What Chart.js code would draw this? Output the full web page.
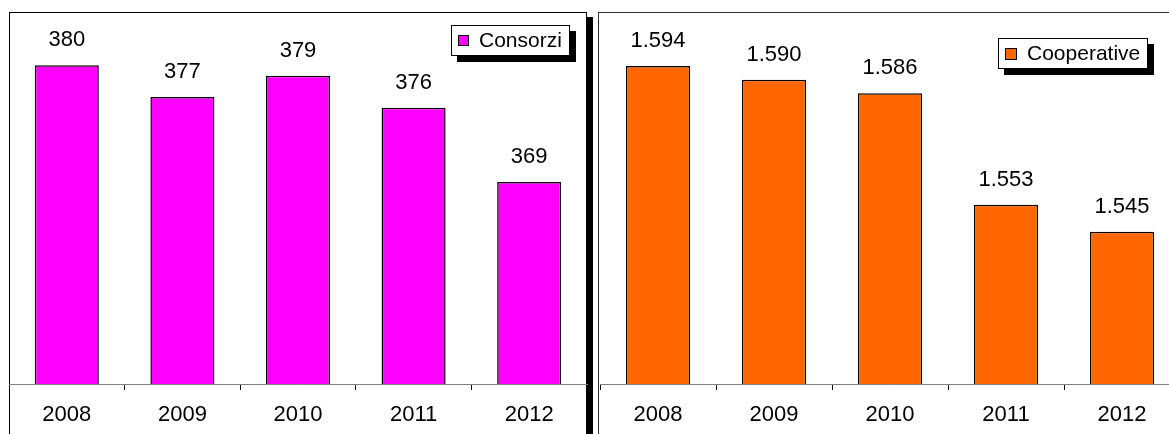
<!DOCTYPE html>
<html><head><meta charset="utf-8">
<script src="https://cdn.jsdelivr.net/npm/chart.js@4/dist/chart.umd.min.js"></script>
<style>
html,body{margin:0;padding:0;background:#fff;overflow:hidden;width:1169px;height:434px;}
.box{position:absolute;}
canvas{display:block;}
.frame{position:absolute;border:1px solid #000;border-bottom:none;box-sizing:border-box;}
.shadow{position:absolute;background:#000;}
</style></head><body>
<div class="frame" style="left:9px;top:12px;width:578px;height:422px"></div>
<div class="shadow" style="left:587px;top:17px;width:6px;height:417px"></div>
<div class="frame" style="left:598px;top:12px;width:620px;height:422px;border-color:#333"></div>
<div class="box" style="left:0;top:0;width:595px;height:434px"><canvas id="c1" width="595" height="434"></canvas></div>
<div class="box" style="left:591px;top:0;width:600px;height:434px"><canvas id="c2" width="600" height="434"></canvas></div>
<script>
// ---- data ----
const years = ['2008', '2009', '2010', '2011', '2012'];
const consorzi = [380, 377, 379, 376, 369];
const cooperative = [1594, 1590, 1586, 1553, 1545];
const consorziRange = [350, 385];
const cooperativeRange = [1500, 1610];
const seriesNames = ['Consorzi', 'Cooperative'];
const seriesColors = ['#FF00FF', '#FF6600'];

const FONT = '"Liberation Sans", Arial, sans-serif';
const FS = 22;
const LFS = 21;
function fmt(v) { return String(v).replace(/\B(?=(\d{3})+(?!\d))/g, '.'); }

const valueLabels = {
  id: 'valueLabels',
  afterDatasetsDraw(chart) {
    const ctx = chart.ctx;
    const ds = chart.data.datasets[0];
    const meta = chart.getDatasetMeta(0);
    ctx.save();
    ctx.font = FS + 'px ' + FONT;
    ctx.fillStyle = '#000';
    ctx.textAlign = 'center';
    ctx.textBaseline = 'middle';
    meta.data.forEach((bar, i) => ctx.fillText(fmt(ds.data[i]), bar.x, bar.y - 25));
    ctx.restore();
  }
};

const boxLegend = {
  id: 'boxLegend',
  afterDraw(chart, args, o) {
    const ctx = chart.ctx;
    const ds = chart.data.datasets[0];
    ctx.save();
    ctx.fillStyle = '#000';
    ctx.fillRect(o.x + 6, o.y + 6, o.w, o.h);
    ctx.fillStyle = '#fff';
    ctx.fillRect(o.x, o.y, o.w, o.h);
    ctx.strokeStyle = '#000';
    ctx.lineWidth = 1;
    ctx.strokeRect(o.x + 0.5, o.y + 0.5, o.w - 1, o.h - 1);
    const cy = o.y + o.h / 2;
    ctx.fillStyle = ds.backgroundColor;
    ctx.fillRect(o.mx, Math.round(cy - o.ms / 2), o.ms, o.ms);
    ctx.strokeRect(o.mx + 0.5, Math.round(cy - o.ms / 2) + 0.5, o.ms - 1, o.ms - 1);
    ctx.fillStyle = '#000';
    ctx.font = LFS + 'px ' + FONT;
    ctx.textAlign = 'left';
    ctx.textBaseline = 'middle';
    ctx.fillText(ds.label, o.tx, cy + 1);
    ctx.restore();
  }
};

function makeChart(id, values, range, name, color, pad, legend) {
  return new Chart(document.getElementById(id), {
    type: 'bar',
    data: {
      labels: years,
      datasets: [{
        label: name,
        data: values,
        backgroundColor: color,
        borderColor: '#000',
        borderWidth: 1.5,
        barPercentage: 0.554,
        categoryPercentage: 1.0
      }]
    },
    options: {
      responsive: false,
      animation: false,
      layout: { padding: pad },
      plugins: { legend: { display: false }, tooltip: { enabled: false }, boxLegend: legend },
      scales: {
        x: {
          afterFit(s) { s.height = 50; },
          grid: { display: true, drawOnChartArea: false, drawTicks: true, tickLength: 6, tickColor: '#000', offset: true },
          border: { display: true, color: '#808080', width: 1 },
          ticks: { color: '#000', font: { family: FONT, size: FS }, padding: 12, maxRotation: 0 }
        },
        y: { display: false, min: range[0], max: range[1] }
      }
    },
    plugins: [valueLabels, boxLegend]
  });
}

makeChart('c1', consorzi, consorziRange, seriesNames[0], seriesColors[0],
  { left: 9, right: 8, top: 12, bottom: 0 },
  { x: 451, y: 25, w: 119, h: 31, mx: 458, ms: 11, tx: 479 });
makeChart('c2', cooperative, cooperativeRange, seriesNames[1], seriesColors[1],
  { left: 9, right: 11, top: 12, bottom: 0 },
  { x: 407, y: 38, w: 150, h: 31, mx: 414, ms: 12, tx: 436 });
</script>
</body></html>
